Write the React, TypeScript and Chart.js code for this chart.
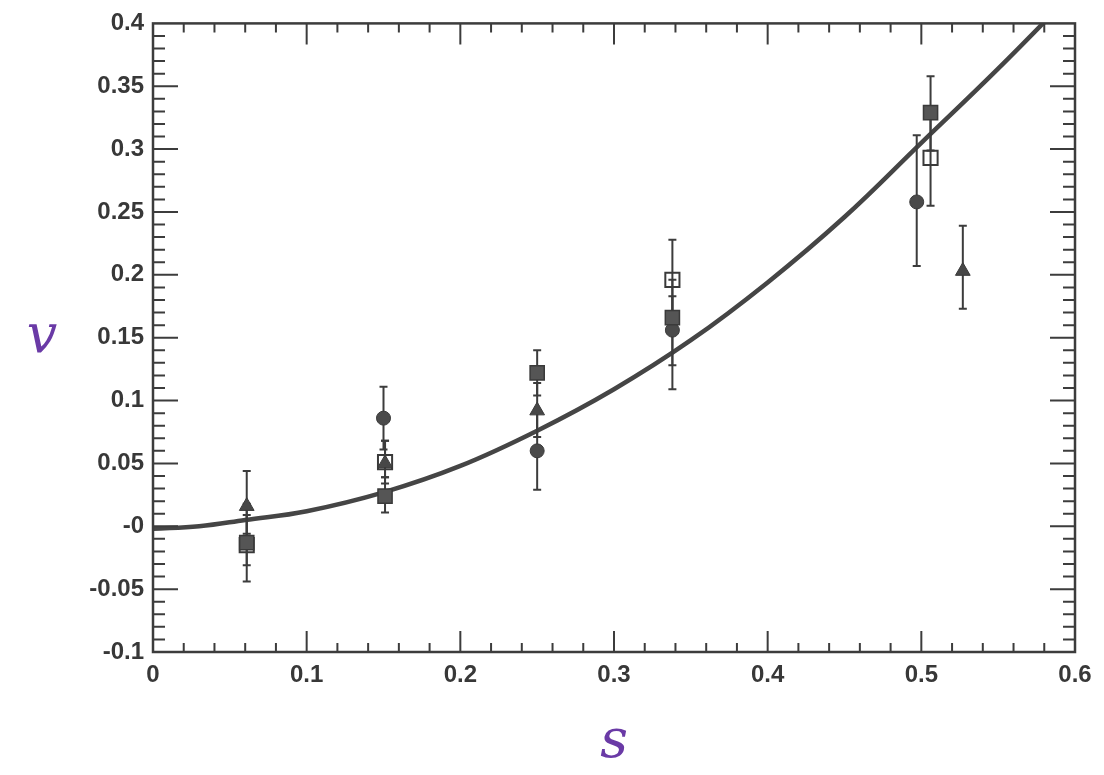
import React, { useEffect, useRef } from 'react';
import { Chart, registerables } from 'chart.js';
Chart.register(...registerables);

const xTickValues = [0, 0.1, 0.2, 0.3, 0.4, 0.5, 0.6];
const xTickLabels = ['0', '0.1', '0.2', '0.3', '0.4', '0.5', '0.6'];
const yTickValues = [-0.1, -0.05, 0, 0.05, 0.1, 0.15, 0.2, 0.25, 0.3, 0.35, 0.4];
const yTickLabels = ['-0.1', '-0.05', '-0', '0.05', '0.1', '0.15', '0.2', '0.25', '0.3', '0.35', '0.4'];
const xMinorStep = 0.02;
const yMinorStep = 0.01;
const xTitle = 's';
const yTitle = 'v';

// filled circles
const circleX = [0.15, 0.25, 0.338, 0.497];
const circleY = [0.086, 0.06, 0.156, 0.258];
const circleLo = [0.061, 0.029, 0.128, 0.207];
const circleHi = [0.111, 0.091, 0.183, 0.311];

// filled triangles
const triangleX = [0.061, 0.151, 0.25, 0.527];
const triangleY = [0.016, 0.05, 0.092, 0.203];
const triangleLo = [-0.006, 0.034, 0.071, 0.173];
const triangleHi = [0.044, 0.068, 0.114, 0.239];

// filled squares
const filledSqX = [0.061, 0.151, 0.25, 0.338, 0.506];
const filledSqY = [-0.013, 0.024, 0.122, 0.166, 0.329];
const filledSqLo = [-0.044, 0.011, 0.104, 0.109, 0.299];
const filledSqHi = [0.018, 0.039, 0.14, 0.196, 0.358];

// open squares
const openSqX = [0.061, 0.151, 0.338, 0.506];
const openSqY = [-0.015, 0.051, 0.196, 0.293];
const openSqLo = [-0.031, 0.039, 0.166, 0.255];
const openSqHi = [0.009, 0.068, 0.228, 0.329];

// fitted curve
const curveX = [0, 0.03, 0.06, 0.1, 0.15, 0.2, 0.25, 0.3, 0.35, 0.4, 0.45, 0.5, 0.55, 0.6];
const curveY = [-0.002, 0.0, 0.005, 0.012, 0.027, 0.048, 0.076, 0.109, 0.148, 0.194, 0.246, 0.305, 0.364, 0.426];

const INK = '#3c3c3c';

function pts(xs: number[], ys: number[], lo?: number[], hi?: number[]) {
  return xs.map((x, i) => ({ x, y: ys[i], lo: lo ? lo[i] : undefined, hi: hi ? hi[i] : undefined }));
}

const framePlugin = {
  id: 'frameTicks',
  afterDatasetDraw(chart: any, args: any) {
    if (args.index !== 0) return;
    const ctx = chart.ctx;
    const ys = chart.scales.y;
    ctx.save();
    ctx.strokeStyle = INK;
    ctx.lineWidth = 2;
    for (let d = 1; d < chart.data.datasets.length; d++) {
      const meta = chart.getDatasetMeta(d);
      chart.data.datasets[d].data.forEach((p: any, j: number) => {
        if (p.lo === undefined) return;
        const px = meta.data[j].x;
        const y1 = ys.getPixelForValue(p.lo);
        const y2 = ys.getPixelForValue(p.hi);
        ctx.beginPath();
        ctx.moveTo(px, y1);
        ctx.lineTo(px, y2);
        ctx.moveTo(px - 4, y1);
        ctx.lineTo(px + 4, y1);
        ctx.moveTo(px - 4, y2);
        ctx.lineTo(px + 4, y2);
        ctx.stroke();
      });
    }
    ctx.restore();
  },
  afterDraw(chart: any) {
    const ctx = chart.ctx;
    const { left, right, top, bottom } = chart.chartArea;
    const xs = chart.scales.x;
    const ys = chart.scales.y;
    ctx.save();
    ctx.strokeStyle = INK;
    ctx.lineWidth = 2.5;
    ctx.strokeRect(left, top, right - left, bottom - top);
    ctx.lineWidth = 2;
    ctx.beginPath();
    const nx = Math.round((xs.max - xs.min) / xMinorStep);
    for (let i = 1; i < nx; i++) {
      const v = xs.min + i * xMinorStep;
      const major = i % 5 === 0;
      const len = major ? 21 : 9;
      const px = xs.getPixelForValue(v);
      ctx.moveTo(px, bottom);
      ctx.lineTo(px, bottom - len);
      ctx.moveTo(px, top);
      ctx.lineTo(px, top + len);
    }
    const ny = Math.round((ys.max - ys.min) / yMinorStep);
    for (let i = 1; i < ny; i++) {
      const v = ys.min + i * yMinorStep;
      const major = i % 5 === 0;
      const len = major ? 25 : 12;
      const py = ys.getPixelForValue(v);
      ctx.moveTo(left, py);
      ctx.lineTo(left + len, py);
      ctx.moveTo(right, py);
      ctx.lineTo(right - len, py);
    }
    ctx.stroke();
    // upright y-axis title (handwritten in the original)
    ctx.fillStyle = '#6a3aa6';
    ctx.font = 'italic 54px "DejaVu Serif"';
    ctx.textAlign = 'center';
    ctx.textBaseline = 'middle';
    ctx.fillText(yTitle, 42, (top + bottom) / 2);
    ctx.restore();
  },
};

export default function App() {
  const ref = useRef<HTMLCanvasElement>(null);
  useEffect(() => {
    if (!ref.current) return;
    const tickFont = { family: 'Liberation Sans', size: 24, weight: 'bold' as const };
    const titleFont = { family: 'DejaVu Serif', size: 54, style: 'italic' as const };
    const chart = new Chart(ref.current, {
      type: 'scatter',
      data: {
        datasets: [
          {
            label: 'fit',
            data: pts(curveX, curveY),
            showLine: true,
            borderColor: '#454545',
            borderWidth: 4.5,
            pointRadius: 0,
            tension: 0.4,
            order: 10,
          } as any,
          {
            label: 'circles',
            data: pts(circleX, circleY, circleLo, circleHi),
            pointStyle: 'circle',
            pointRadius: 7,
            backgroundColor: '#4a4a4a',
            borderColor: '#3a3a3a',
            borderWidth: 1,
            order: 4,
          },
          {
            label: 'triangles',
            data: pts(triangleX, triangleY, triangleLo, triangleHi),
            pointStyle: 'triangle',
            pointRadius: 8.5,
            backgroundColor: '#474747',
            borderColor: '#3a3a3a',
            borderWidth: 1,
            order: 1,
          },
          {
            label: 'filled squares',
            data: pts(filledSqX, filledSqY, filledSqLo, filledSqHi),
            pointStyle: 'rect',
            pointRadius: 10,
            backgroundColor: '#555555',
            borderColor: '#3a3a3a',
            borderWidth: 1.5,
            order: 2,
          },
          {
            label: 'open squares',
            data: pts(openSqX, openSqY, openSqLo, openSqHi),
            pointStyle: 'rect',
            pointRadius: 10,
            backgroundColor: 'rgba(255,255,255,0)',
            borderColor: '#3a3a3a',
            borderWidth: 2,
            order: 3,
          },
        ],
      },
      options: {
        animation: false,
        responsive: false,
        maintainAspectRatio: false,
        layout: { padding: { left: 0, right: 29, top: 19, bottom: 0 } },
        plugins: { legend: { display: false }, tooltip: { enabled: false } },
        scales: {
          x: {
            type: 'linear',
            min: 0,
            max: 0.6,
            afterBuildTicks: (s: any) => {
              s.ticks = xTickValues.map((v) => ({ value: v }));
            },
            afterFit: (s: any) => {
              s.height = 123;
            },
            grid: { display: false, drawTicks: false },
            border: { display: false },
            ticks: {
              autoSkip: false,
              maxRotation: 0,
              padding: 9,
              color: '#383838',
              font: tickFont,
              callback: (_v: any, i: number) => xTickLabels[i],
            },
            title: {
              display: true,
              text: xTitle,
              color: '#6a3aa6',
              font: titleFont,
              padding: { top: 0, bottom: 0 },
            },
          },
          y: {
            type: 'linear',
            min: -0.1,
            max: 0.4,
            afterBuildTicks: (s: any) => {
              s.ticks = yTickValues.map((v) => ({ value: v }));
            },
            afterFit: (s: any) => {
              s.width = 153;
            },
            grid: { display: false, drawTicks: false },
            border: { display: false },
            ticks: {
              autoSkip: false,
              padding: 9,
              color: '#383838',
              font: tickFont,
              callback: (_v: any, i: number) => yTickLabels[i],
            },
            title: { display: false },
          },
        },
      },
      plugins: [framePlugin],
    });
    return () => chart.destroy();
  }, []);
  return (
    <div style={{ position: 'fixed', left: 0, top: 0, width: 1104, height: 775, background: '#fff' }}>
      <canvas ref={ref} width={1104} height={775} style={{ display: 'block' }} />
    </div>
  );
}
